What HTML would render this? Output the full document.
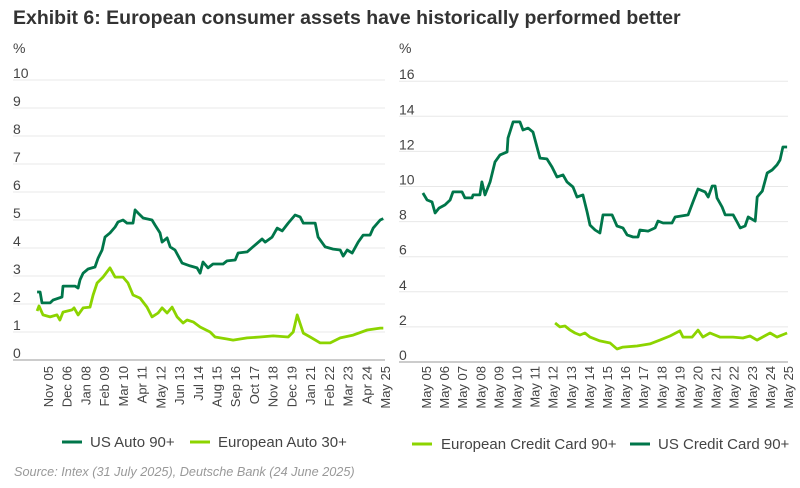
<!DOCTYPE html>
<html><head><meta charset="utf-8"><style>
body{margin:0;background:#fff;}
svg{display:block;font-family:"Liberation Sans",sans-serif;}
</style></head><body>
<svg id="c" width="800" height="488" viewBox="0 0 800 488">
<text x="13" y="24" font-size="19.5" font-weight="bold" fill="#333">Exhibit 6: European consumer assets have historically performed better</text>
<text x="13" y="53" font-size="14" fill="#444">%</text>
<text x="399" y="53" font-size="14" fill="#444">%</text>
<g id="L"></g>
<g id="R"></g>
<g>
<line x1="62" y1="442" x2="82" y2="442" stroke="#00764A" stroke-width="3"/>
<text x="90" y="447" font-size="15" fill="#444">US Auto 90+</text>
<line x1="190" y1="442" x2="210" y2="442" stroke="#8CD400" stroke-width="3"/>
<text x="218" y="447" font-size="15" fill="#444">European Auto 30+</text>
</g>
<g>
<line x1="412" y1="444" x2="432" y2="444" stroke="#8CD400" stroke-width="3"/>
<text x="441" y="449" font-size="15" fill="#444">European Credit Card 90+</text>
<line x1="630" y1="444" x2="650" y2="444" stroke="#00764A" stroke-width="3"/>
<text x="658" y="449" font-size="15" fill="#444">US Credit Card 90+</text>
</g>
<text x="14" y="476" font-size="12.7" font-style="italic" fill="#999">Source: Intex (31 July 2025), Deutsche Bank (24 June 2025)</text>
</svg>
<script>
const leftTicks=[0,1,2,3,4,5,6,7,8,9,10];
const leftXLabels=["Nov 05","Dec 06","Jan 08","Feb 09","Mar 10","Apr 11","May 12","Jun 13","Jul 14","Aug 15","Sep 16","Oct 17","Nov 18","Dec 19","Jan 21","Feb 22","Mar 23","Apr 24","May 25"];
const usAutoYears=[2005.2,2005.37,2005.48,2005.95,2006.12,2006.64,2006.7,2007.39,2007.57,2007.68,2007.86,2008.15,2008.55,2008.73,2008.96,2009.13,2009.42,2009.71,2009.88,2010.17,2010.4,2010.75,2010.87,2011.04,2011.33,2011.85,2012.02,2012.31,2012.43,2012.72,2012.9,2013.18,2013.59,2014.05,2014.46,2014.63,2014.8,2015.09,2015.38,2015.96,2016.19,2016.66,2016.83,2017.35,2017.82,2018.22,2018.4,2018.8,2019.09,2019.38,2019.73,2020.13,2020.42,2020.6,2021.29,2021.46,2021.87,2022.33,2022.74,2022.91,2023.14,2023.43,2023.78,2024.07,2024.47,2024.65,2025.05,2025.23];
const usAutoValues=[2.43,2.43,2.04,2.04,2.14,2.25,2.64,2.64,2.57,2.86,3.1,3.25,3.32,3.64,3.93,4.39,4.54,4.75,4.93,5.0,4.89,4.89,5.36,5.25,5.07,5.0,4.82,4.54,4.21,4.36,4.04,3.93,3.46,3.36,3.29,3.1,3.5,3.29,3.43,3.43,3.54,3.57,3.82,3.86,4.11,4.32,4.21,4.39,4.71,4.61,4.89,5.18,5.11,4.89,4.89,4.39,4.04,3.96,3.93,3.71,3.93,3.82,4.21,4.46,4.46,4.71,5.0,5.05];
const euAutoYears=[2005.2,2005.31,2005.54,2005.95,2006.35,2006.52,2006.7,2007.22,2007.34,2007.57,2007.86,2008.26,2008.44,2008.67,2009.01,2009.42,2009.71,2010.17,2010.46,2010.75,2011.16,2011.56,2011.85,2012.2,2012.43,2012.72,2013.01,2013.3,2013.65,2013.88,2014.23,2014.63,2015.21,2015.5,2016.19,2016.54,2017.35,2018.1,2018.86,2019.73,2020.02,2020.25,2020.6,2021.0,2021.58,2022.16,2022.74,2023.49,2024.3,2025.05,2025.23];
const euAutoValues=[1.75,1.93,1.61,1.54,1.61,1.43,1.71,1.79,1.86,1.61,1.86,1.89,2.32,2.75,2.96,3.29,2.96,2.96,2.75,2.32,2.21,1.89,1.54,1.68,1.86,1.68,1.89,1.54,1.32,1.43,1.36,1.18,1.0,0.82,0.75,0.71,0.79,0.82,0.86,0.82,1.0,1.61,0.96,0.82,0.61,0.61,0.79,0.89,1.07,1.14,1.14];
const rightTicks=[0,2,4,6,8,10,12,14,16];
const rightXLabels=["May 05","May 06","May 07","May 08","May 09","May 10","May 11","May 12","May 13","May 14","May 15","May 16","May 17","May 18","May 19","May 20","May 21","May 22","May 23","May 24","May 25"];
const usCardYears=[2005.2,2005.43,2005.7,2005.87,2006.09,2006.42,2006.7,2006.86,2007.36,2007.52,2007.91,2007.97,2008.35,2008.46,2008.63,2008.91,2009.18,2009.46,2009.85,2009.9,2010.18,2010.56,2010.73,2011.01,2011.28,2011.5,2011.67,2012.05,2012.33,2012.61,2012.94,2013.16,2013.49,2013.71,2014.04,2014.27,2014.43,2014.71,2014.98,2015.15,2015.65,2015.92,2016.25,2016.48,2016.81,2017.08,2017.19,2017.64,2018.03,2018.19,2018.47,2018.96,2019.13,2019.85,2020.12,2020.4,2020.79,2020.96,2021.18,2021.34,2021.45,2021.73,2021.9,2022.34,2022.56,2022.73,2023.0,2023.17,2023.56,2023.67,2023.95,2024.22,2024.49,2024.76,2024.93,2025.09,2025.32];
const usCardValues=[9.63,9.23,9.12,8.49,8.77,8.95,9.23,9.69,9.69,9.35,9.35,9.52,9.52,10.26,9.52,10.26,11.4,11.8,11.97,12.76,13.68,13.68,13.22,13.33,13.1,12.25,11.62,11.57,11.11,10.54,10.66,10.26,9.97,9.4,9.52,8.55,7.8,7.52,7.35,8.38,8.38,7.75,7.64,7.24,7.12,7.12,7.52,7.46,7.64,8.03,7.92,7.92,8.26,8.38,9.12,9.86,9.69,9.4,10.03,10.03,9.35,8.83,8.38,8.38,7.98,7.64,7.75,8.26,8.03,9.4,9.74,10.77,10.94,11.23,11.51,12.25,12.25];
const euCardYears=[2012.5,2012.77,2013.05,2013.33,2013.6,2013.88,2014.15,2014.43,2014.98,2015.54,2015.92,2016.25,2017.02,2017.74,2018.29,2018.85,2019.4,2019.57,2020.07,2020.4,2020.67,2021.06,2021.61,2022.33,2022.88,2023.27,2023.66,2024.38,2024.76,2025.32];
const euCardValues=[2.22,2.0,2.05,1.82,1.65,1.54,1.65,1.42,1.2,1.08,0.74,0.85,0.91,1.03,1.25,1.48,1.77,1.42,1.42,1.82,1.42,1.65,1.42,1.42,1.37,1.48,1.25,1.65,1.42,1.65];

const NS="http://www.w3.org/2000/svg";
function mk(p,t,a){const e=document.createElementNS(NS,t);for(const k in a)e.setAttribute(k,a[k]);p.appendChild(e);return e;}
function chart(g,cfg){
  const y=v=>cfg.y0-cfg.yk*v;
  const x=yr=>cfg.x0+(yr-cfg.yr0)*cfg.xk;
  cfg.ticks.forEach(t=>{
    const ln=mk(g,'line',{x1:cfg.gx1,x2:cfg.gx2,y1:y(t),y2:y(t),stroke:t===0?'#bbb':'#e8e8e8','stroke-width':t===0?1.5:1});
    
    
    const tx=mk(g,'text',{x:cfg.lx,y:y(t)-2,'font-size':14,fill:'#444'});
    tx.textContent=t;
    
    
  });
  cfg.labels.forEach((l,i)=>{
    const px=cfg.lab0+i*cfg.labStep;
    const tx=mk(g,'text',{x:0,y:0,'font-size':13,fill:'#444','text-anchor':'end',transform:`translate(${px+5},366) rotate(-90)`});
    tx.textContent=l;
    
    
  });
  cfg.series.forEach(s=>{
    const d=s.yrs.map((yr,i)=>(i?'L':'M')+x(yr).toFixed(1)+','+y(s.vals[i]).toFixed(1)).join('');
    const p=mk(g,'path',{d:d,fill:'none',stroke:s.color,'stroke-width':2.8,'stroke-linejoin':'round'});
    
    
  });
}
chart(document.getElementById('L'),{y0:360,yk:28,x0:48,yr0:2005.83,xk:337/19.5,ticks:leftTicks,gx1:13,gx2:385,lx:13,labels:leftXLabels,lab0:48,labStep:337/18,
  series:[{yrs:euAutoYears,vals:euAutoValues,color:'#8CD400',name:'european-auto-line'},{yrs:usAutoYears,vals:usAutoValues,color:'#00764A',name:'us-auto-line'}]});
chart(document.getElementById('R'),{y0:362,yk:17.55,x0:426,yr0:2005.37,xk:18.1,ticks:rightTicks,gx1:399,gx2:788,lx:399,labels:rightXLabels,lab0:426,labStep:18.1,
  series:[{yrs:euCardYears,vals:euCardValues,color:'#8CD400',name:'european-credit-card-line'},{yrs:usCardYears,vals:usCardValues,color:'#00764A',name:'us-credit-card-line'}]});
</script>
</body></html>
